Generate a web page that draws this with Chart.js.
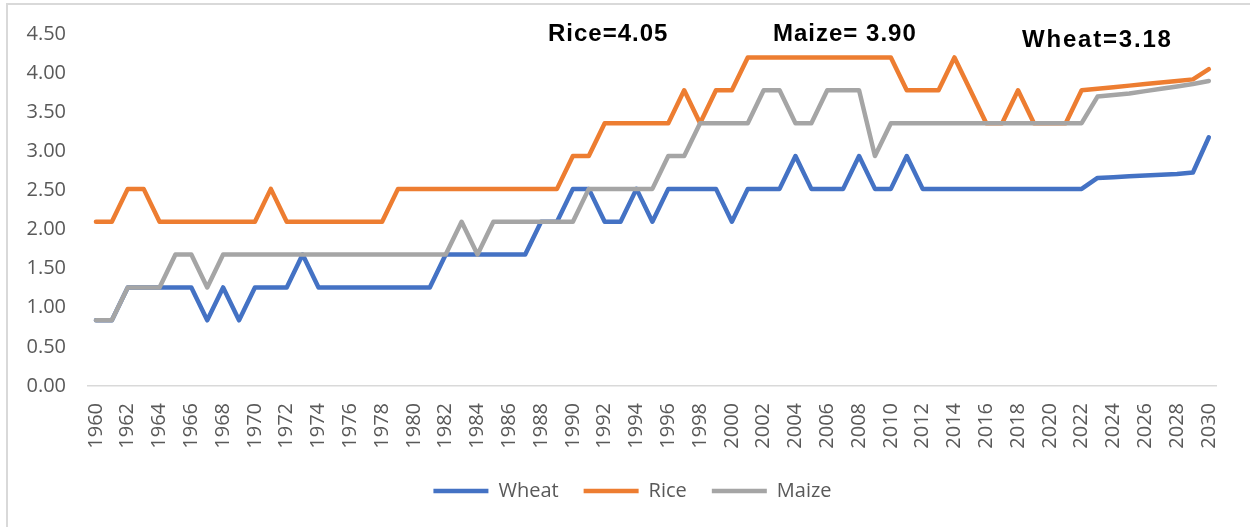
<!DOCTYPE html>
<html>
<head>
<meta charset="utf-8">
<title>Wheat, Rice and Maize</title>
<script src="https://cdn.jsdelivr.net/npm/chart.js@4.4.0/dist/chart.umd.min.js"></script>
<style>
  body { margin: 0; background: #fff; }
  #wrap { position: relative; width: 1250px; height: 527px; overflow: hidden; }
  #frame { position: absolute; left: 6px; top: 3px; width: 1300px; height: 600px;
           border-left: 2px solid #d9d9d9; border-top: 2px solid #d9d9d9; }
  .note { position: absolute; font: bold 24px "Liberation Sans", Arial, sans-serif;
          line-height: 24px; letter-spacing: 1px; color: #000; white-space: nowrap; }
</style>
</head>
<body>
<div id="wrap">
  <div id="frame"></div>
  <canvas id="cropChart"></canvas>
  <div class="note" style="left:548px; top:21px;">Rice=4.05</div>
  <div class="note" style="left:773px; top:21px;">Maize= 3.90</div>
  <div class="note" style="left:1022px; top:27px; letter-spacing:1.8px;">Wheat=3.18</div>
</div>
<script>
// Years 1960 - 2030
const years = [];
for (let y = 1960; y <= 2030; y++) years.push(String(y));

const wheat = [
  0.84, 0.84, 1.26, 1.26, 1.26, 1.26, 1.26, 0.84, 1.26, 0.84,
  1.26, 1.26, 1.26, 1.68, 1.26, 1.26, 1.26, 1.26, 1.26, 1.26,
  1.26, 1.26, 1.68, 1.68, 1.68, 1.68, 1.68, 1.68, 2.10, 2.10,
  2.52, 2.52, 2.10, 2.10, 2.52, 2.10, 2.52, 2.52, 2.52, 2.52,
  2.10, 2.52, 2.52, 2.52, 2.94, 2.52, 2.52, 2.52, 2.94, 2.52,
  2.52, 2.94, 2.52, 2.52, 2.52, 2.52, 2.52, 2.52, 2.52, 2.52,
  2.52, 2.52, 2.52, 2.66, 2.67, 2.68, 2.69, 2.70, 2.71, 2.73,
  3.18
];

const rice = [
  2.10, 2.10, 2.52, 2.52, 2.10, 2.10, 2.10, 2.10, 2.10, 2.10,
  2.10, 2.52, 2.10, 2.10, 2.10, 2.10, 2.10, 2.10, 2.10, 2.52,
  2.52, 2.52, 2.52, 2.52, 2.52, 2.52, 2.52, 2.52, 2.52, 2.52,
  2.94, 2.94, 3.36, 3.36, 3.36, 3.36, 3.36, 3.78, 3.36, 3.78,
  3.78, 4.20, 4.20, 4.20, 4.20, 4.20, 4.20, 4.20, 4.20, 4.20,
  4.20, 3.78, 3.78, 3.78, 4.20, 3.78, 3.36, 3.36, 3.78, 3.36,
  3.36, 3.36, 3.78, 3.80, 3.82, 3.84, 3.86, 3.88, 3.90, 3.92,
  4.05
];

const maize = [
  0.84, 0.84, 1.26, 1.26, 1.26, 1.68, 1.68, 1.26, 1.68, 1.68,
  1.68, 1.68, 1.68, 1.68, 1.68, 1.68, 1.68, 1.68, 1.68, 1.68,
  1.68, 1.68, 1.68, 2.10, 1.68, 2.10, 2.10, 2.10, 2.10, 2.10,
  2.10, 2.52, 2.52, 2.52, 2.52, 2.52, 2.94, 2.94, 3.36, 3.36,
  3.36, 3.36, 3.78, 3.78, 3.36, 3.36, 3.78, 3.78, 3.78, 2.94,
  3.36, 3.36, 3.36, 3.36, 3.36, 3.36, 3.36, 3.36, 3.36, 3.36,
  3.36, 3.36, 3.36, 3.70, 3.72, 3.74, 3.77, 3.80, 3.83, 3.86,
  3.90
];

const seriesNames = ['Wheat', 'Rice', 'Maize'];
const seriesColors = ['#4472c4', '#ed7d31', '#a5a5a5'];
const seriesData = [wheat, rice, maize];
// maize sits on top, wheat at the bottom
const drawOrder = [3, 2, 1];

const tickFont = { family: '"Open Sans", "Liberation Sans", sans-serif', size: 20 };

// legend is centred a bit right of the canvas middle in the original
const legendShift = {
  id: 'legendShift',
  beforeDraw(chart) {
    if (chart.legend) chart.legend.left = 40;
  }
};

const ctx = document.getElementById('cropChart');
new Chart(ctx, {
  type: 'line',
  data: {
    labels: years,
    datasets: seriesNames.map((name, i) => ({
      label: name,
      data: seriesData[i],
      borderColor: seriesColors[i],
      backgroundColor: seriesColors[i],
      borderWidth: 4.5,
      borderCapStyle: 'round',
      borderJoinStyle: 'round',
      pointRadius: 0,
      tension: 0,
      order: drawOrder[i]
    }))
  },
  plugins: [legendShift],
  options: {
    responsive: true,
    maintainAspectRatio: false,
    animation: false,
    layout: { padding: { top: 33, left: 0, right: 25, bottom: 16 } },
    plugins: {
      tooltip: { enabled: false },
      legend: {
        position: 'bottom',
        labels: {
          usePointStyle: true,
          pointStyle: 'line',
          pointStyleWidth: 55,
          padding: 25,
          color: '#595959',
          font: tickFont,
          sort: (a, b) => a.datasetIndex - b.datasetIndex
        }
      }
    },
    scales: {
      x: {
        offset: true,
        grid: { display: false, drawTicks: false },
        border: { color: '#d9d9d9', width: 1.5 },
        ticks: {
          autoSkip: false,
          minRotation: 90,
          maxRotation: 90,
          padding: 17,
          color: '#595959',
          font: tickFont,
          callback: function(value, index) {
            return index % 2 === 0 ? this.getLabelForValue(value) : '';
          }
        },
        afterFit: scale => { scale.height = 70; }
      },
      y: {
        min: 0,
        max: 4.5,
        grid: { display: false, drawTicks: false },
        border: { display: false },
        ticks: {
          stepSize: 0.5,
          padding: 22,
          color: '#595959',
          font: tickFont,
          callback: value => value.toFixed(2)
        },
        afterFit: scale => { scale.width = 88; }
      }
    }
  }
});
</script>
</body>
</html>
